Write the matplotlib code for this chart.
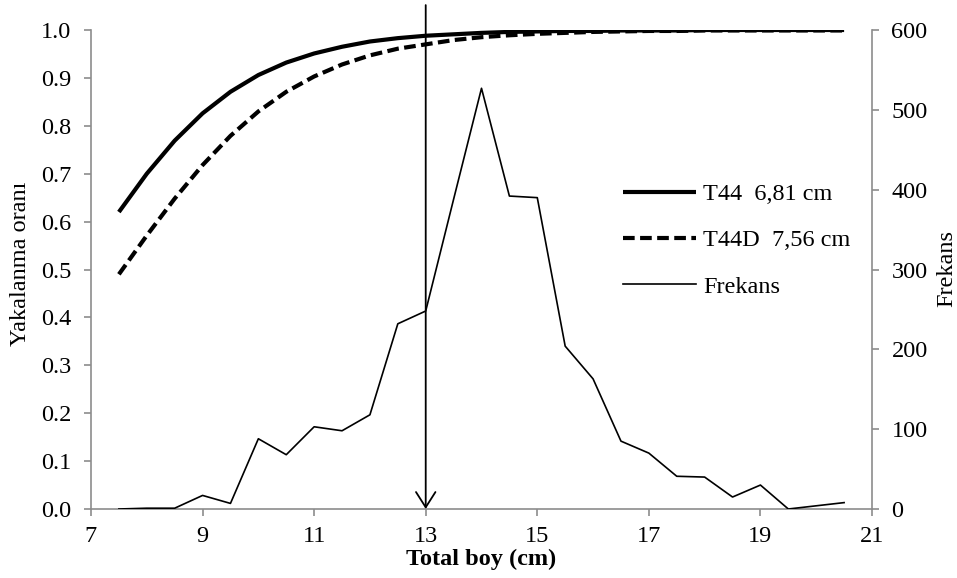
import matplotlib
matplotlib.use("Agg")
import matplotlib.pyplot as plt

plt.rcParams['font.family'] = ['Liberation Serif', 'DejaVu Serif']

# boy grupları (cm)
boy = [7.5, 8.0, 8.5, 9.0, 9.5, 10.0, 10.5, 11.0, 11.5, 12.0, 12.5, 13.0, 13.5,
       14.0, 14.5, 15.0, 15.5, 16.0, 16.5, 17.0, 17.5, 18.0, 18.5, 19.0, 19.5,
       20.0, 20.5]

# seçicilik eğrileri
t44 = [0.620, 0.700, 0.769, 0.826, 0.871, 0.906, 0.932, 0.951, 0.965, 0.976,
       0.983, 0.988, 0.991, 0.994, 0.996, 0.997, 0.998, 0.998, 0.999, 0.999,
       0.999, 1.0, 1.0, 1.0, 1.0, 1.0, 1.0]
t44d = [0.490, 0.571, 0.648, 0.718, 0.779, 0.830, 0.871, 0.903, 0.928, 0.947,
        0.961, 0.970, 0.979, 0.985, 0.989, 0.992, 0.994, 0.996, 0.997, 0.998,
        0.998, 0.999, 0.999, 0.999, 0.999, 0.999, 0.999]

# frekans
frekans = [0, 1, 1, 17, 7, 88, 68, 103, 98, 118, 232, 248, 388, 527, 392, 390,
           204, 163, 85, 70, 41, 40, 15, 30, 0, 4, 8]

etiketler = ['T44  6,81 cm', 'T44D  7,56 cm', 'Frekans']
ok_x = 13

fs = 17.5
gri = '#8c8c8c'

fig = plt.figure(figsize=(9.57, 5.78), dpi=100)
ax = fig.add_axes([91 / 957, 1 - 509 / 578, 781 / 957, 479 / 578])
ax2 = ax.twinx()

l1, = ax.plot(boy, t44, color='black', lw=3.0, solid_capstyle='butt')
l2, = ax.plot(boy, t44d, color='black', lw=3.0, linestyle=(0, (2.8, 1.3)))
l3, = ax2.plot(boy, frekans, color='black', lw=1.2)

ax.annotate('', xy=(ok_x, 0), xytext=(ok_x, 1.052), xycoords='data',
            annotation_clip=False,
            arrowprops=dict(arrowstyle='->,head_length=1.1,head_width=0.7',
                            lw=1.3, color='black', shrinkA=0, shrinkB=0))

ax.set_xlim(7, 21)
ax.set_ylim(0, 1.0)
ax2.set_ylim(0, 600)
ax.set_xticks(range(7, 22, 2))
ax.set_yticks([i / 10 for i in range(11)])
ax.set_yticklabels(['%.1f' % (i / 10) for i in range(11)])
ax2.set_yticks(range(0, 601, 100))

for a in (ax, ax2):
    a.spines['top'].set_visible(False)
    for s in ('left', 'right', 'bottom'):
        a.spines[s].set_color(gri)
        a.spines[s].set_linewidth(1.2)
    a.tick_params(colors=gri, labelcolor='black', labelsize=fs, length=5,
                  width=1.2, direction='out')
ax.spines['right'].set_visible(False)
ax2.spines['left'].set_visible(False)
ax2.spines['bottom'].set_visible(False)
ax.tick_params(axis='y', pad=9)
ax.tick_params(axis='x', pad=7)
ax2.tick_params(axis='y', pad=9)

ax.set_xlabel('Total boy (cm)', fontsize=fs, fontweight='bold')
ax.xaxis.set_label_coords(0.5, -0.083)
ax.set_ylabel('Yakalanma oranı', fontsize=fs)
ax.yaxis.set_label_coords(-0.077, 0.511)
ax2.set_ylabel('Frekans', fontsize=fs)
ax2.yaxis.set_label_coords(1.082, 0.503)

ax2.legend([l1, l2, l3], etiketler, loc='upper left',
           bbox_to_anchor=(623 / 957, 1 - 183 / 578),
           bbox_transform=fig.transFigure, frameon=False, fontsize=fs,
           handlelength=3.0, handletextpad=0.3, labelspacing=1.0,
           borderpad=0, borderaxespad=0)

fig.savefig('out.png', dpi=100)
